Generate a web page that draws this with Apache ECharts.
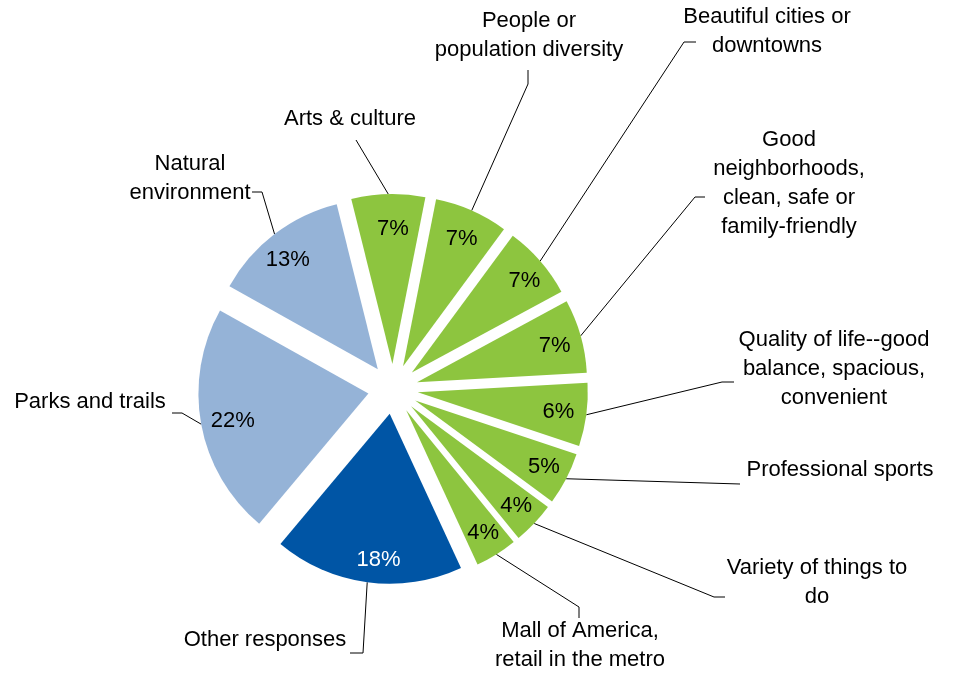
<!DOCTYPE html>
<html><head><meta charset="utf-8">
<script src="https://cdn.jsdelivr.net/npm/echarts@6/dist/echarts.min.js"></script>
<style>html,body{margin:0;padding:0;background:#fff}#chart{width:955px;height:681px}</style>
</head><body><div id="chart"></div>
<script>
// ---- data ----
const categories = [
  'Arts & culture',
  'People or\npopulation diversity',
  'Beautiful cities or\ndowntowns',
  'Good\nneighborhoods,\nclean, safe or\nfamily-friendly',
  'Quality of life--good\nbalance, spacious,\nconvenient',
  'Professional sports',
  'Variety of things to\ndo',
  'Mall of America,\nretail in the metro',
  'Other responses',
  'Parks and trails',
  'Natural\nenvironment'
];
const values = [7, 7, 7, 7, 6, 5, 4, 4, 18, 22, 13];

// ---- styles / layout ----
const GREEN = '#8dc53f', LIGHT = '#95b3d7', DARK = '#0055a5';
const sliceColors = [GREEN, GREEN, GREEN, GREEN, GREEN, GREEN, GREEN, GREEN, DARK, LIGHT, LIGHT];
const pctColors = ['#000','#000','#000','#000','#000','#000','#000','#000','#fff','#000','#000'];
const pctNudge = [[4,10],[0,5],[3,3],[-2,3],[-3,0],[0,0],[0,0],[0,0],[8,2],[7,1],[-2,6]];
const CENTER = [393, 389];
const R = 170;
const OFFSET = 25;
const START = 104;
const FONT = 'Liberation Sans, Arial, sans-serif';
// outer label centres and leader-line bends/ends
const labelAnchor = [[350,119],[529,35],[767,31],[789,183],[834,369],[840,470],[817,582],[580,645],[265,640],[90,402],[190,178]];
const lineElbow   = [[356,140],[528,84],[684,42],[695,197],[722,382],[740,484],[714,597],[579,607],[363,653],[182,413],[262,192]];
const lineEnd     = [[356,140],[528,70],[696,42],[705,197],[734,382],[740,484],[725,597],[579,618],[350,653],[172,413],[252,192]];

const chart = echarts.init(document.getElementById('chart'), null, {renderer: 'canvas'});

const sliceData = values.map((v, i) => ({
  name: categories[i], value: v, selected: true,
  itemStyle: {color: sliceColors[i]}
}));
const pctData = values.map((v, i) => ({
  name: categories[i], value: v,
  label: {color: pctColors[i], offset: pctNudge[i]}
}));
const nameData = values.map((v, i) => ({name: categories[i], value: v}));

const common = {
  type: 'pie', center: CENTER, startAngle: START, clockwise: true,
  avoidLabelOverlap: false, emphasis: {disabled: true}
};

chart.setOption({
  animation: false,
  backgroundColor: '#fff',
  textStyle: {fontFamily: FONT},
  series: [
    Object.assign({}, common, {
      radius: [0, R],
      selectedMode: 'multiple',
      selectedOffset: OFFSET,
      itemStyle: {borderWidth: 0},
      label: {show: false},
      labelLine: {show: false},
      data: sliceData
    }),
    Object.assign({}, common, {
      radius: [146, 188],
      silent: true,
      itemStyle: {color: 'rgba(0,0,0,0)', borderWidth: 0},
      label: {
        show: true, position: 'inside', formatter: '{c}%',
        fontFamily: FONT, fontSize: 22, color: '#000'
      },
      labelLine: {show: false},
      data: pctData
    }),
    Object.assign({}, common, {
      radius: [R + OFFSET - 1, R + OFFSET],
      silent: true,
      itemStyle: {color: 'rgba(0,0,0,0)', borderWidth: 0},
      label: {
        show: true, position: 'outside', formatter: '{b}',
        fontFamily: FONT, fontSize: 22, lineHeight: 29, color: '#000', align: 'center'
      },
      labelLine: {show: true, length: 10, length2: 10, smooth: false, lineStyle: {color: '#000', width: 1}},
      labelLayout: function (p) {
        const i = p.dataIndex;
        const start = p.labelLinePoints ? p.labelLinePoints[0] : lineElbow[i];
        return {
          x: labelAnchor[i][0], y: labelAnchor[i][1],
          align: 'center', verticalAlign: 'middle',
          labelLinePoints: [start, lineElbow[i], lineEnd[i]]
        };
      },
      data: nameData
    })
  ]
});
</script>
</body></html>
